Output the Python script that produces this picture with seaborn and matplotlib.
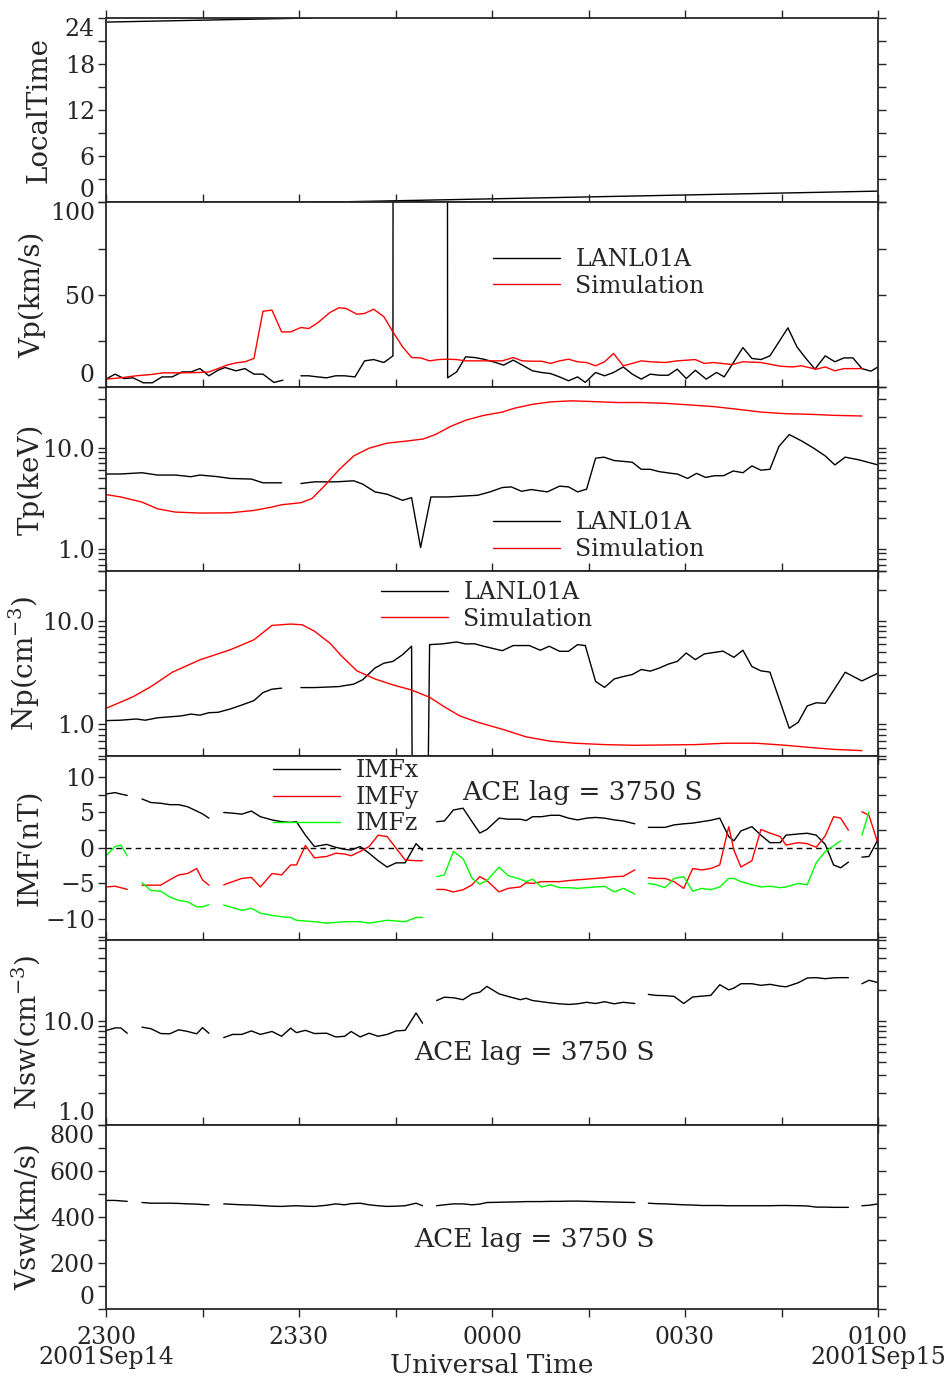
import numpy as np
import pandas as pd
import matplotlib
matplotlib.use('Agg')
import matplotlib.pyplot as plt
from matplotlib.lines import Line2D
from matplotlib.ticker import FixedLocator, LogLocator, NullFormatter
import seaborn as sns

nan = np.nan

# time axis: minutes after 2300 UT on 2001 Sep 14
x_major = [0, 30, 60, 90, 120]
x_minor = [15, 45, 75, 105]
x_labels = ['2300\n2001Sep14', '2330', '0000', '0030', '0100\n2001Sep15']

# local time of LANL01A (wraps at 24)
lt_t = [0, 32, nan, 32, 120]
lt_v = [23.47, 24.0, nan, 0.0, 1.47]

# proton velocity
vp_obs_t = [0, 1.4, 2.8, 4.2, 5.8, 7.2, 8.7, 10.3, 11.8, 13.2, 14.6, 16.0, 17.4, 18.5, 20.2,
            21.6, 23.0, 24.4, 26.1, 27.5, nan, 30.3, 31.5, 32.9, 34.3, 35.7, 37.1, 38.7, 40.2,
            41.6, 43.2, 44.6, 44.8, 52.9, 53.1, 54.5, 55.9, 57.3, 58.7, 60.2, 61.8, 63.3, 64.7,
            66.3, 67.7, 69.1, 70.5, 71.9, 73.3, 74.5, 76.1, 77.5, 78.9, 80.4, 81.8, 83.2, 84.6,
            86.0, 87.4, 88.8, 90.2, 91.6, 93.3, 94.9, 96.1, 97.6, 99.0, 100.4, 101.8, 103.2,
            106.0, 107.4, 108.8, 110.2, 111.8, 113.3, 114.7, 116.1, 117.5, 118.9, 120]
vp_obs_v = [4.2, 6.9, 4.5, 4.9, 2.2, 2.2, 5.4, 5.4, 8.1, 8.1, 9.9, 6.0, 9.0, 10.5, 8.7,
            9.9, 6.9, 6.9, 2.4, 3.6, nan, 6.0, 6.0, 5.4, 4.9, 6.0, 6.0, 5.4, 14.1,
            14.8, 13.2, 16.8, 1000, 1000, 4.9, 8.1, 16.3, 15.9, 15.0, 13.6, 11.8, 14.5, 11.8,
            8.7, 7.8, 7.2, 5.4, 3.3, 5.4, 2.4, 7.8, 6.0, 7.8, 10.8, 6.9, 4.2, 6.9,
            6.3, 6.3, 9.6, 4.5, 9.0, 4.2, 7.8, 5.4, 13.6, 21.3, 15.4, 14.8, 16.8,
            32.0, 21.7, 15.4, 9.6, 16.8, 13.6, 15.7, 15.7, 9.9, 8.5, 10.8]
vp_sim_t = [0, 2.3, 4.7, 7.0, 8.9, 11.7, 14.6, 16.0, 17.4, 18.8, 20.2, 21.6, 23.0, 24.4, 25.8,
            27.3, 28.7, 30.3, 31.5, 32.9, 34.8, 36.2, 37.3, 39.0, 40.2, 41.6, 43.2, 44.6, 46.1,
            47.5, 48.9, 50.3, 51.7, 53.1, 54.5, 55.9, 58.7, 61.6, 63.3, 64.7, 66.3, 67.7, 69.1,
            70.5, 71.9, 73.3, 74.7, 76.1, 77.5, 78.9, 80.4, 81.8, 83.2, 84.6, 86.9, 88.8, 91.6,
            93.0, 94.4, 97.3, 99.0, 101.8, 104.8, 106.7, 108.1, 110.4, 111.8, 113.3, 114.7, 117.5]
vp_sim_v = [4.2, 4.9, 6.0, 6.7, 7.6, 7.6, 7.8, 8.1, 9.9, 11.8, 13.0, 13.6, 15.4, 41.0, 41.6,
            29.8, 29.8, 32.2, 31.6, 34.7, 40.3, 42.9, 42.5, 39.4, 39.8, 42.1, 38.0, 29.8, 21.7,
            15.9, 15.7, 14.1, 14.8, 15.0, 14.8, 14.1, 14.1, 14.1, 15.9, 14.1, 13.9, 13.9, 12.7,
            14.1, 15.0, 13.6, 13.2, 11.4, 13.6, 18.1, 11.4, 12.7, 14.1, 13.6, 13.2, 14.1, 14.8,
            12.7, 13.2, 12.1, 13.6, 13.2, 11.2, 10.8, 11.4, 9.6, 10.8, 8.7, 9.9, 9.9]

# proton temperature
tp_obs_t = [0, 2.3, 5.6, 8.0, 10.8, 13.2, 14.6, 17.4, 19.3, 22.6, 24.4, 27.3, nan, 30.3, 32.4,
            35.7, 38.5, 39.9, 41.8, 43.7, 46.1, 47.5, 48.9, 50.5, 53.1, 57.8, 59.7, 61.6, 63.0,
            64.6, 66.1, 68.6, 70.5, 71.9, 73.3, 74.7, 76.1, 77.4, 79.0, 81.8, 83.2, 84.6, 86.0,
            87.9, 88.8, 90.4, 91.8, 93.2, 94.6, 96.0, 97.5, 99.0, 100.4, 101.8, 103.2, 104.6,
            106.2, 108.1, 110.0, 111.8, 113.3, 114.9, 117.0, 120]
tp_obs_v = [5.5, 5.5, 5.66, 5.37, 5.37, 5.17, 5.37, 5.17, 4.97, 4.9, 4.5, 4.5, nan, 4.43, 4.6,
            4.6, 4.71, 4.37, 3.66, 3.47, 3.02, 3.21, 1.03, 3.26, 3.26, 3.39, 3.66, 4.04, 4.1,
            3.71, 3.86, 3.66, 4.17, 4.1, 3.66, 3.89, 7.88, 8.07, 7.47, 7.19, 6.12, 6.12, 5.8,
            5.58, 5.5, 4.97, 5.58, 5.09, 5.29, 5.29, 5.89, 5.66, 6.61, 6.0, 6.12, 10.3,
            13.5, 11.7, 9.9, 8.3, 6.76, 8.07, 7.6, 6.76]
tp_sim_t = [0, 2.3, 5.6, 8.0, 10.8, 14.6, 19.3, 23.0, 25.8, 27.3, 30.3, 32.0, 33.8, 36.2, 38.5,
            40.9, 43.7, 46.5, 49.3, 51.2, 53.6, 55.9, 58.7, 61.6, 63.4, 66.3, 69.1, 72.4, 75.7,
            79.4, 83.2, 86.9, 90.7, 94.5, 98.2, 101.9, 105.7, 109.5, 113.3, 117.5]
tp_sim_v = [3.44, 3.26, 2.9, 2.49, 2.31, 2.26, 2.27, 2.4, 2.59, 2.73, 2.86, 3.14, 4.1, 6.03, 8.3,
            9.9, 11.1, 11.6, 12.2, 13.5, 16.3, 18.7, 20.9, 22.5, 24.5, 26.9, 28.4, 29.1, 28.6,
            28.0, 28.0, 27.5, 26.5, 25.5, 24.0, 22.5, 21.7, 21.4, 20.9, 20.6]

# proton density
np_obs_t = [0, 2.3, 4.7, 6.1, 8.0, 11.7, 13.2, 14.6, 16.0, 17.4, 19.3, 21.1, 23.0, 24.4, 25.8,
            27.3, nan, 30.3, 32.4, 36.2, 38.5, 39.9, 41.8, 43.2, 44.6, 46.1, 47.5, 47.7, 49.8,
            50.3, 52.2, 54.5, 55.9, 57.3, 58.7, 61.6, 63.3, 65.8, 67.5, 68.9, 70.5, 71.9, 73.3,
            74.5, 76.1, 77.5, 79.0, 80.4, 81.8, 83.2, 84.6, 86.0, 87.4, 88.8, 90.2, 91.6, 93.0,
            95.9, 97.6, 99.0, 100.4, 101.8, 103.2, 106.2, 107.6, 109.0, 110.4, 111.8, 113.3,
            114.9, 117.5, 120]
np_obs_v = [1.09, 1.1, 1.13, 1.1, 1.16, 1.21, 1.26, 1.23, 1.3, 1.31, 1.41, 1.54, 1.7, 2.03, 2.19,
            2.24, nan, 2.27, 2.27, 2.32, 2.45, 2.7, 3.5, 3.9, 4.06, 4.71, 5.68, 0.01, 0.01,
            5.89, 5.98, 6.25, 5.98, 6.0, 5.68, 5.15, 5.77, 5.77, 5.2, 5.68, 5.08, 5.08, 5.89,
            5.77, 2.6, 2.28, 2.75, 2.9, 3.03, 3.39, 3.27, 3.5, 3.82, 4.06, 4.89, 4.22, 4.79,
            5.1, 4.44, 5.2, 3.62, 3.29, 3.2, 0.92, 1.05, 1.51, 1.62, 1.6, 2.23,
            3.19, 2.63, 3.13]
np_sim_t = [0, 4.2, 7.0, 10.3, 14.6, 19.3, 23.0, 25.8, 28.7, 30.5, 32.4, 34.8, 36.7, 39.0, 41.8,
            44.6, 47.5, 50.3, 52.6, 55.0, 57.8, 61.6, 65.3, 69.1, 72.8, 77.5, 82.2, 91.6, 96.3,
            101.0, 105.7, 109.5, 113.3, 117.5]
np_sim_v = [1.43, 1.85, 2.32, 3.19, 4.2, 5.25, 6.56, 9.02, 9.3, 9.15, 7.94, 6.08, 4.52, 3.29, 2.75,
            2.41, 2.15, 1.83, 1.48, 1.21, 1.05, 0.9, 0.76, 0.69, 0.66, 0.64, 0.63, 0.64, 0.66,
            0.66, 0.63, 0.6, 0.575, 0.56]

# ACE solar wind, lagged 3750 s (same time stamps for all ACE series)
imf_t = [0, 1.4, 2.3, 3.3, nan,
         5.6, 7.0, 8.5, 9.9, 11.3, 12.7, 14.1, 15.0, 16.0, nan,
         18.3, 19.7, 21.1, 22.6, 24.0, 25.8, 27.3, 28.7, 29.6, 31.0, 32.4, 34.3, 35.7, 37.1,
         38.1, 39.5, 40.9, 42.3, 43.7, 45.1, 46.5, 48.2, 49.2, nan,
         51.4, 52.6, 54.0, 55.5, 56.9, 58.1, 59.2, 61.1, 62.5, 64.4, 65.3, 66.3, 67.7, 69.1,
         70.5, 71.9, 73.3, 74.7, 76.1, 77.5, 79.0, 80.4, 82.2, nan,
         84.3, 85.5, 86.9, 88.3, 89.8, 91.2, 92.6, 94.0, 95.4, 96.8, 97.6, 98.7, 100.4, 101.8,
         103.2, 104.8, 105.7, 107.6, 109.0, 110.4, 111.8, 113.1, 114.2, 115.4, nan,
         117.5, 118.6, 120]
imfx = [7.6, 7.8, 7.6, 7.4, nan,
        6.9, 6.4, 6.3, 6.1, 6.1, 5.8, 5.2, 4.8, 4.2, nan,
        5.0, 4.9, 4.76, 5.2, 4.4, 3.95, 3.7, 3.6, 3.7, 1.8, 0.19, 0.5, 0.09, -0.2,
        -0.3, 0.19, -0.75, -1.8, -2.7, -2.1, -2.1, 0.6, -0.3, nan,
        3.7, 3.8, 5.35, 5.6, 3.7, 2.1, 2.6, 4.2, 4.05, 4.05, 3.86, 4.4, 4.4, 4.6,
        4.6, 4.2, 3.95, 4.2, 4.3, 4.2, 3.95, 3.8, 3.4, nan,
        2.9, 2.9, 2.9, 3.25, 3.4, 3.5, 3.7, 3.9, 4.2, 1.6, 1.0, 2.4, 3.0, 1.8,
        0.75, 0.75, 1.8, 1.97, 2.07, 1.8, 0.5, -2.4, -2.8, -2.0, nan,
        -1.3, -1.2, 1.2]
imfy = [-5.5, -5.4, -5.6, -5.85, nan,
        -5.25, -5.25, -5.25, -4.5, -3.8, -3.6, -2.9, -4.5, -5.25, nan,
        -5.2, -4.75, -4.3, -4.15, -5.5, -3.6, -3.8, -2.4, -2.4, 0.35, -1.4, -1.2, -0.75, -0.85,
        -1.1, -0.5, 0.2, 1.8, 1.6, -0.05, -1.7, -1.8, -1.8, nan,
        -5.85, -5.85, -6.2, -5.9, -5.2, -4.05, -4.6, -6.2, -5.7, -5.5, -4.9, -5.0, -4.75, -4.75,
        -4.75, -4.6, -4.5, -4.4, -4.3, -4.2, -4.05, -4.0, -3.1, nan,
        -4.2, -4.3, -4.3, -4.75, -5.7, -2.9, -3.1, -2.9, -2.4, 3.0, -0.3, -2.7, -1.8, 2.6,
        2.1, 1.6, 0.4, 0.75, 0.6, 0.1, 1.7, 4.4, 4.2, 2.5, nan,
        5.1, 4.6, 0.6]
imfz = [-1.1, 0.2, 0.4, -1.1, nan,
        -4.9, -6.0, -6.1, -6.9, -7.4, -7.6, -8.3, -8.3, -8.0, nan,
        -8.05, -8.4, -8.8, -8.5, -9.2, -9.5, -9.7, -9.8, -10.2, -10.3, -10.4, -10.6, -10.5, -10.4,
        -10.4, -10.4, -10.6, -10.4, -10.2, -10.3, -10.4, -9.8, -9.8, nan,
        -4.05, -3.8, -0.5, -1.5, -4.3, -5.1, -4.6, -2.7, -3.9, -4.4, -4.75, -4.4, -5.5, -5.2,
        -5.6, -5.6, -5.7, -5.6, -5.5, -5.4, -6.2, -5.7, -6.5, nan,
        -5.0, -5.2, -5.6, -4.3, -4.05, -6.1, -5.7, -5.9, -5.5, -4.3, -4.3, -4.75, -5.2, -5.5,
        -5.4, -5.6, -5.5, -5.0, -5.2, -2.1, -0.5, 0.3, 1.0, nan,
        0.4, 1.8, 5.1]
nsw = [8.06, 8.55, 8.55, 7.6, nan,
       8.7, 8.4, 7.55, 7.5, 8.2, 7.9, 7.5, 8.6, 7.6, nan,
       6.9, 7.4, 7.4, 8.0, 7.4, 7.9, 7.1, 8.5, 7.7, 8.1, 7.55, 7.6, 7.0, 7.1,
       7.9, 7.0, 7.6, 7.1, 7.4, 8.0, 8.1, 11.9, 9.5, nan,
       15.7, 16.9, 16.7, 16.0, 18.2, 18.9, 21.5, 18.2, 17.2, 16.0, 16.5, 15.7, 15.3, 14.9,
       14.6, 14.4, 14.6, 15.1, 14.7, 15.3, 14.6, 15.1, 14.7, nan,
       18.0, 17.6, 17.5, 17.2, 14.7, 17.0, 17.3, 17.6, 22.3, 19.9, 20.7, 22.8, 22.8, 22.0,
       22.5, 21.6, 21.3, 23.3, 25.9, 26.1, 25.5, 26.0, 26.1, 26.1, nan,
       22.8, 24.6, 23.4]
vsw = [471, 471, 469, 467, nan,
       462, 459, 459, 459, 458, 456, 455, 453, 452, nan,
       456, 454, 452, 451, 449, 446, 445, 447, 448, 446, 445, 450, 456, 452,
       457, 459, 452, 448, 445, 446, 448, 459, 448, nan,
       448, 452, 456, 456, 452, 455, 462, 463, 464, 465, 466, 466, 466, 467,
       467, 468, 468, 467, 466, 465, 464, 463, 462, nan,
       459, 457, 456, 454, 452, 451, 449, 449, 449, 448, 448, 448, 448, 448,
       448, 449, 449, 448, 447, 442, 442, 441, 441, 441, nan,
       448, 450, 456]

ylabels = ['LocalTime', 'Vp(km/s)', 'Tp(keV)', 'Np(cm$^{-3}$)', 'IMF(nT)',
           'Nsw(cm$^{-3}$)', 'Vsw(km/s)']


def to_frame(t, v):
    rows = []
    seg = 0
    for ti, vi in zip(t, v):
        if np.isnan(ti):
            seg += 1
            continue
        rows.append((ti, vi, seg))
    return pd.DataFrame(rows, columns=['t', 'v', 'seg'])


def draw(ax, t, v, color):
    df = to_frame(t, v)
    sns.lineplot(data=df, x='t', y='v', units='seg', estimator=None, sort=False,
                 color=color, lw=1.0, ax=ax, legend=False)


def add_legend(ax, labels, colors, x, y):
    handles = [Line2D([], [], color=c, lw=1.0) for c in colors]
    ax.legend(handles, labels, loc='upper left', bbox_to_anchor=(x, y), frameon=False,
              fontsize=17, borderpad=0, borderaxespad=0, handlelength=2.84,
              handletextpad=0.66, labelspacing=0.15)


def pin_end_labels(ax):
    # end labels are pulled inside the panel
    lo, hi = ax.get_ylim()
    locs = ax.get_yticks()
    ticks = ax.yaxis.get_major_ticks(len(locs))
    for loc, tick in zip(locs, ticks):
        if np.isclose(loc, hi):
            tick.label1.set_verticalalignment('top')
        elif np.isclose(loc, lo):
            tick.label1.set_verticalalignment('bottom')


sns.set_style('ticks')
plt.rcParams['font.family'] = ['DejaVu Serif']
plt.rcParams['mathtext.fontset'] = 'dejavuserif'

fig = plt.figure(figsize=(9.48, 13.83), dpi=100)
W, H = 948, 1383
left, right, top, ph = 106, 878, 18, 184.43
axes = []
for i in range(7):
    b = 1 - (top + (i + 1) * ph) / H
    ax = fig.add_axes([left / W, b, (right - left) / W, ph / H],
                      sharex=axes[0] if axes else None)
    axes.append(ax)

a1, a2, a3, a4, a5, a6, a7 = axes

draw(a1, lt_t, lt_v, 'k')
a1.set_ylim(0, 24)
a1.set_yticks([0, 6, 12, 18, 24])
a1.yaxis.set_minor_locator(FixedLocator([3, 9, 15, 21]))

draw(a2, vp_obs_t, vp_obs_v, 'k')
draw(a2, vp_sim_t, vp_sim_v, 'red')
a2.set_ylim(0, 100)
a2.set_yticks([0, 50, 100])
a2.yaxis.set_minor_locator(FixedLocator([25, 75]))
add_legend(a2, ['LANL01A', 'Simulation'], ['k', 'red'], 0.501, 0.752)

draw(a3, tp_obs_t, tp_obs_v, 'k')
draw(a3, tp_sim_t, tp_sim_v, 'red')
a3.set_yscale('log')
a3.set_ylim(0.6, 40)
add_legend(a3, ['LANL01A', 'Simulation'], ['k', 'red'], 0.501, 0.325)

draw(a4, np_obs_t, np_obs_v, 'k')
draw(a4, np_sim_t, np_sim_v, 'red')
a4.set_yscale('log')
a4.set_ylim(0.5, 30)
add_legend(a4, ['LANL01A', 'Simulation'], ['k', 'red'], 0.356, 0.947)

a5.axhline(0, color='k', lw=1.0, ls=(0, (4, 3)))
draw(a5, imf_t, imfx, 'k')
draw(a5, imf_t, imfy, 'red')
draw(a5, imf_t, imfz, 'lime')
a5.set_ylim(-13, 13)
a5.set_yticks([-10, -5, 0, 5, 10])
a5.yaxis.set_minor_locator(FixedLocator([-12.5, -7.5, -2.5, 2.5, 7.5, 12.5]))
add_legend(a5, ['IMFx', 'IMFy', 'IMFz'], ['k', 'red', 'lime'], 0.216, 0.98)
a5.text(0.461, 0.80, 'ACE lag = 3750 S', transform=a5.transAxes, fontsize=19,
        ha='left', va='center')

draw(a6, imf_t, nsw, 'k')
a6.set_yscale('log')
a6.set_ylim(1, 60)
a6.text(0.399, 0.392, 'ACE lag = 3750 S', transform=a6.transAxes, fontsize=19,
        ha='left', va='center')

draw(a7, imf_t, vsw, 'k')
a7.set_ylim(0, 800)
a7.set_yticks([0, 200, 400, 600, 800])
a7.yaxis.set_minor_locator(FixedLocator([100, 300, 500, 700]))
a7.text(0.399, 0.375, 'ACE lag = 3750 S', transform=a7.transAxes, fontsize=19,
        ha='left', va='center')

for ax in (a3, a4, a6):
    ax.set_yticks([1, 10], ['1.0', '10.0'])
    ax.yaxis.set_minor_locator(LogLocator(base=10, subs=np.arange(2, 10)))
    ax.yaxis.set_minor_formatter(NullFormatter())

label_x = [-0.069, -0.077, -0.079, -0.083, -0.082, -0.083, -0.083]
for i, ax in enumerate(axes):
    ax.set_xlim(0, 120)
    ax.xaxis.set_major_locator(FixedLocator(x_major))
    ax.xaxis.set_minor_locator(FixedLocator(x_minor))
    ax.tick_params(which='both', direction='out', length=6, width=1.0,
                   top=True, right=True, bottom=True, left=True, labelsize=17)
    ax.tick_params(axis='y', pad=2)
    for s in ax.spines.values():
        s.set_linewidth(1.3)
        s.set_visible(True)
    ax.set_xlabel('')
    ax.set_ylabel(ylabels[i], fontsize=20)
    ax.yaxis.set_label_coords(label_x[i], 0.5)
    pin_end_labels(ax)
    if i < 6:
        ax.tick_params(labelbottom=False)

a7.set_xticks(x_major, x_labels)
a7.tick_params(axis='x', pad=6)
for lab in a7.get_xticklabels():
    lab.set_linespacing(0.85)
a7.set_xlabel('Universal Time', fontsize=19, va='top')
a7.xaxis.set_label_coords(0.5, -0.24)

fig.savefig('out.png', dpi=100)
